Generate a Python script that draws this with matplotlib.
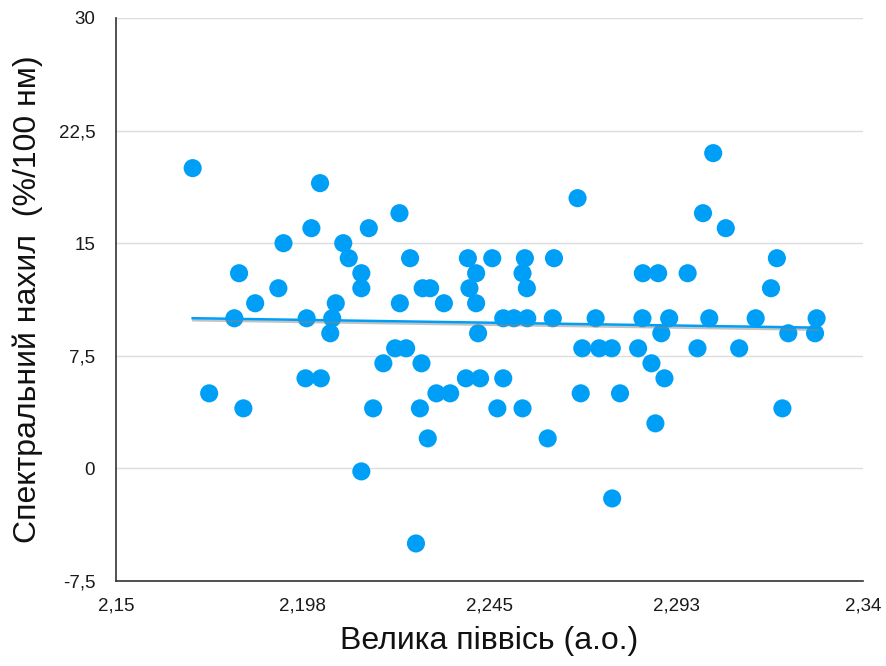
import numpy as np
import matplotlib
matplotlib.use("Agg")
import matplotlib.pyplot as plt
import matplotlib.patheffects as pe

plt.rcParams['font.family'] = ['Liberation Sans', 'DejaVu Sans']

semi_major_axis = [
    2.1695, 2.2019, 2.1997, 2.2143, 2.1926, 2.2078, 2.2092, 2.1813, 2.2124, 2.1913,
    2.2124, 2.1854, 2.2059, 2.1801, 2.1985, 2.2050, 2.2045, 2.1982, 2.2021, 2.1737,
    2.1824, 2.2154, 2.2674, 2.2221, 2.2248, 2.2395, 2.2457, 2.2540, 2.2614, 2.2416,
    2.2534, 2.2280, 2.2299, 2.2399, 2.2545, 2.2222, 2.2334, 2.2416, 2.2485, 2.2512,
    2.2546, 2.2611, 2.2421, 2.2686, 2.2210, 2.2238, 2.2180, 2.2277, 2.2390, 2.2426,
    2.2485, 2.2315, 2.2350, 2.2682, 2.2273, 2.2470, 2.2534, 2.2293, 2.2598, 2.2124,
    2.2263, 2.3019, 2.2993, 2.3051, 2.3181, 2.2840, 2.2879, 2.2954, 2.3166, 2.2720,
    2.2839, 2.2907, 2.3009, 2.3127, 2.3282, 2.2887, 2.3210, 2.3278, 2.2729, 2.2761,
    2.2828, 2.2979, 2.3085, 2.2862, 2.2895, 2.2782, 2.3195, 2.2872, 2.2762,
]
spectral_slope = [
    20, 19, 16, 16, 15, 15, 14, 13, 13, 12,
    12, 11, 11, 10, 10, 10, 9, 6, 6, 5,
    4, 4, 18, 17, 14, 14, 14, 14, 14, 13,
    13, 12, 12, 12, 12, 11, 11, 11, 10, 10,
    10, 10, 9, 8, 8, 8, 7, 7, 6, 6,
    6, 5, 5, 5, 4, 4, 4, 2, 2, -0.2,
    -5, 21, 17, 16, 14, 13, 13, 13, 12, 10,
    10, 10, 10, 10, 10, 9, 9, 9, 8, 8,
    8, 8, 8, 7, 6, 5, 4, 3, -2,
]

x_ticks = [2.15, 2.1975, 2.245, 2.2925, 2.34]
x_tick_labels = ["2,15", "2,198", "2,245", "2,293", "2,34"]
y_ticks = [-7.5, 0, 7.5, 15, 22.5, 30]
y_tick_labels = ["-7,5", "0", "7,5", "15", "22,5", "30"]

x = np.array(semi_major_axis)
y = np.array(spectral_slope)

W, H = 886, 666
fig = plt.figure(figsize=(W/100, H/100), dpi=100)
ax = fig.add_axes([116/W, 1-581/H, (863-116)/W, (581-18)/H])

blue = '#009FF7'
ax.scatter(x, y, s=170, color=blue, edgecolors='none', zorder=3)

k, b = np.polyfit(x, y, 1)
xl = np.array([x.min(), x.max()])
ax.plot(xl, k*xl + b, color=blue, lw=1.8, zorder=4,
        path_effects=[pe.SimpleLineShadow(offset=(0.5, -1.5), shadow_color='#888888', alpha=0.5),
                      pe.Normal()])

ax.set_xlim(2.15, 2.34)
ax.set_ylim(-7.5, 30)
ax.set_xticks(x_ticks)
ax.set_xticklabels(x_tick_labels)
ax.set_yticks(y_ticks)
ax.set_yticklabels(y_tick_labels)
ax.tick_params(length=0, labelsize=13.5, colors='#1a1a1a')
ax.tick_params(axis='y', pad=15)
ax.tick_params(axis='x', pad=12)

ax.yaxis.grid(True, color='#DDDDDD', lw=1)
ax.set_axisbelow(True)
for s in ['top', 'right']:
    ax.spines[s].set_visible(False)
ax.spines['left'].set_color('#333333')
ax.spines['bottom'].set_color('#333333')
ax.spines['left'].set_linewidth(1.2)
ax.spines['bottom'].set_linewidth(1.2)

ax.set_xlabel("Велика піввісь (а.о.)", fontsize=23, color='#111111')
ax.set_ylabel("Спектральний нахил  (%/100 нм)", fontsize=23, color='#111111')
ax.xaxis.set_label_coords(0.50, -(641-581)/(581-18), transform=ax.transAxes)
ax.yaxis.set_label_coords(-(116-28)/(863-116), 0.5, transform=ax.transAxes)
ax.xaxis.label.set_va('center')
ax.yaxis.label.set_va('center')

fig.savefig("out.png", dpi=100)
